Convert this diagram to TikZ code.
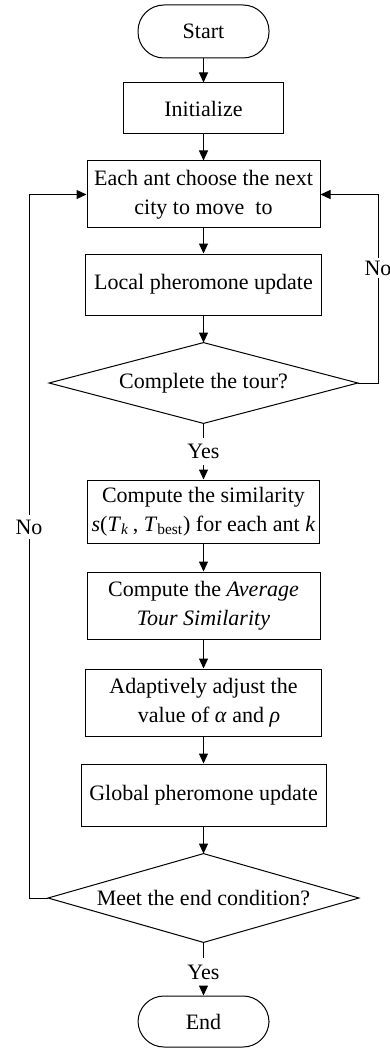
\documentclass[tikz,border=0pt]{standalone}
\usepackage{fontspec}
\setmainfont{Liberation Serif}
\usetikzlibrary{arrows.meta}
\begin{document}
\begin{tikzpicture}[x=0.5pt,y=-0.5pt,
  every node/.style={font=\fontsize{11}{14.5}\selectfont},
  box/.style={draw, line width=0.5pt, rectangle, inner sep=0pt, align=center},
  term/.style={box, rounded corners=13pt, minimum width=65.5pt},
  dia/.style={rectangle, inner sep=0pt, align=center},
  lbl/.style={fill=white, inner sep=1.5pt},
  arr/.style={line width=0.5pt, -{Triangle[length=5pt,width=4.5pt]}},
  ln/.style={line width=0.5pt}
]
\useasboundingbox (0,0) rectangle (390,1048);

\node[term, minimum height=26.5pt] (start) at (203.5,31.5) {Start};
\node[box, minimum width=80pt, minimum height=25.5pt] (init) at (203.5,108.5) {Initialize};
\node[box, minimum width=116.5pt, minimum height=33.5pt] (choose) at (203.5,194.5) {Each ant choose the next\\city to move\ \ to};
\node[box, minimum width=118pt, minimum height=30.5pt] (local) at (203.5,284.5) {Local pheromone update};
\node[dia, minimum width=154pt, minimum height=40pt] (tour) at (203.5,383) {Complete the tour?};
\draw[ln] (tour.west) -- (tour.north) -- (tour.east) -- (tour.south) -- cycle;
\node[lbl, inner sep=3pt] (yes1) at (203.5,451.5) {Yes};
\node[box, minimum width=116pt, minimum height=31.5pt] (sim) at (203.5,511.5) {Compute the similarity\\\textit{s}(\textit{T}\textsubscript{\textit{k}}\,, \textit{T}\textsubscript{best}) for each ant \textit{k}};
\node[box, minimum width=116.5pt, minimum height=33.5pt] (avg) at (203.5,605.5) {Compute the \textit{Average}\\\textit{Tour Similarity}};
\node[box, minimum width=118pt, minimum height=33.5pt] (adapt) at (203.5,702.5) {Adaptively adjust the\\\ \ value of \textit{α} and \textit{ρ}};
\node[box, minimum width=122.5pt, minimum height=31pt] (global) at (203.5,795) {Global pheromone update};
\node[dia, minimum width=155pt, minimum height=44pt] (meet) at (203.5,898) {Meet the end condition?};
\draw[ln] (meet.west) -- (meet.north) -- (meet.east) -- (meet.south) -- cycle;
\node[lbl, inner sep=3pt] (yes2) at (203.5,972) {Yes};
\node[term, minimum height=25.5pt] (end) at (203.5,1021.5) {End};

\node[lbl, inner sep=1pt] (noR) at (378,268) {No};
\node[lbl, inner sep=2pt] (noL) at (29,527) {No};

\draw[arr] (start) -- (init);
\draw[arr] (init) -- (choose);
\draw[arr] (choose) -- (local);
\draw[arr] (local) -- (tour.north);
\draw[ln] (tour.south) -- (yes1);
\draw[arr] (yes1) -- (sim);
\draw[arr] (sim) -- (avg);
\draw[arr] (avg) -- (adapt);
\draw[arr] (adapt) -- (global);
\draw[arr] (global) -- (meet.north);
\draw[ln] (meet.south) -- (yes2);
\draw[arr] (yes2) -- (end);

\draw[ln] (tour.east) -| (noR.south);
\draw[arr] (noR.north) |- (choose.east);
\draw[ln] (meet.west) -| (noL.south);
\draw[arr] (noL.north) |- (choose.west);
\end{tikzpicture}
\end{document}
